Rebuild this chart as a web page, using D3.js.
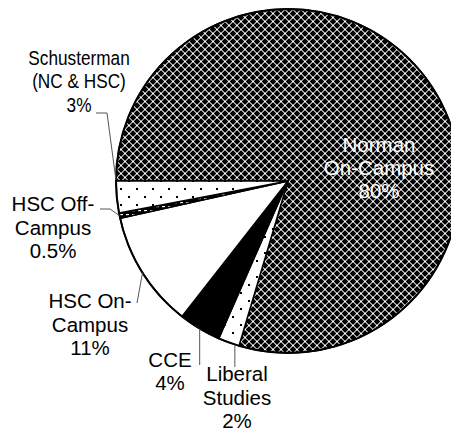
<!DOCTYPE html>
<html>
<head>
<meta charset="utf-8">
<script src="https://d3js.org/d3.v7.min.js"></script>
<style>
  body { margin: 0; background: #fff; }
  text { font-family: "Liberation Sans", Arial, sans-serif; font-size: 20.5px; }
</style>
</head>
<body>
<div id="chart"></div>
<script>
// slices, clockwise from 9 o'clock
const names = ["Norman On-Campus", "Liberal Studies", "CCE", "HSC On-Campus", "HSC Off-Campus", "Schusterman (NC & HSC)"];
const values = [80, 2, 4, 11, 0.5, 3];
const nameLines = [["Norman", "On-Campus"], ["Liberal", "Studies"], ["CCE"], ["HSC On-", "Campus"], ["HSC Off-", "Campus"], ["Schusterman", "(NC & HSC)"]];
const fills = ["url(#crosshatch)", "url(#dots)", "#000", "#fff", "url(#dashes)", "url(#dots)"];

const width = 451;
const height = 431;
const cx = 288, cy = 181, r = 172;

// label placement: center x, first baseline, line step, horizontal squeeze
const labelPos = [
  { x: 379, y: 152, dy: 23, color: "#fff", sx: 1 },
  { x: 237, y: 381, dy: 23.5, color: "#000", sx: 1 },
  { x: 170, y: 367, dy: 23, color: "#000", sx: 1 },
  { x: 90,  y: 308, dy: 23.5, color: "#000", sx: 1 },
  { x: 53,  y: 211, dy: 23.5, color: "#000", sx: 1 },
  { x: 79,  y: 65,  dy: 23.5, color: "#000", sx: 0.84 }
];
// leader lines: label side points, the pie side is computed
const leaders = [
  null,
  { pts: [[null, 367]], at: 0.2 },
  { pts: [[null, 365]], at: 0.5 },
  { pts: [[137, 303]], at: 0.5 },
  { pts: [[100, 209], [110, 209]], at: 0.5 },
  { pts: [[96, 113], [107, 113]], at: 1.02 }
];

const svg = d3.select("#chart").append("svg")
  .attr("width", width)
  .attr("height", height);

const defs = svg.append("defs");

// dark crosshatch tile: doubled diagonal grey lattice on black, white at crossings
const T = 8;
const hatch = defs.append("pattern")
  .attr("id", "crosshatch")
  .attr("patternUnits", "userSpaceOnUse")
  .attr("width", T).attr("height", T);
hatch.append("rect").attr("width", T).attr("height", T).attr("fill", "#000");
const px = [];
for (let y = 0; y < T; y++) {
  for (let x = 0; x < T; x++) {
    const a = (x + y) % T, b = (x - y + T) % T;
    const onA = a === 0 || a === 1, onB = b === 0 || b === 1;
    if (onA && onB) px.push({ x, y, c: "#fff" });
    else if (onA || onB) px.push({ x, y, c: "#9a9a9a" });
  }
}
hatch.selectAll("rect.px").data(px).enter().append("rect")
  .attr("class", "px")
  .attr("x", d => d.x).attr("y", d => d.y)
  .attr("width", 1).attr("height", 1)
  .attr("fill", d => d.c);

// sparse dots
const dots = defs.append("pattern")
  .attr("id", "dots")
  .attr("patternUnits", "userSpaceOnUse")
  .attr("x", 136).attr("y", 183)
  .attr("width", 16).attr("height", 16);
dots.append("rect").attr("width", 16).attr("height", 16).attr("fill", "#fff");
dots.append("rect").attr("x", 0).attr("y", 0).attr("width", 2).attr("height", 2).attr("fill", "#000");
dots.append("rect").attr("x", 8).attr("y", 8).attr("width", 2).attr("height", 2).attr("fill", "#000");

// black with white dashes
const dashes = defs.append("pattern")
  .attr("id", "dashes")
  .attr("patternUnits", "userSpaceOnUse")
  .attr("width", 6).attr("height", 4);
dashes.append("rect").attr("width", 6).attr("height", 4).attr("fill", "#000");
dashes.append("rect").attr("x", 0).attr("y", 1).attr("width", 3).attr("height", 1.2).attr("fill", "#fff");

const pie = d3.pie()
  .sort(null)
  .startAngle(-Math.PI / 2)
  .endAngle(3 * Math.PI / 2);

const arcs = pie(values);
const arc = d3.arc().innerRadius(0).outerRadius(r);

const g = svg.append("g").attr("transform", `translate(${cx},${cy})`);

g.selectAll("path")
  .data(arcs)
  .enter().append("path")
    .attr("d", arc)
    .attr("fill", (d, i) => fills[i])
    .attr("stroke", "#000")
    .attr("stroke-width", 1.5)
    .attr("stroke-linejoin", "miter");

g.append("circle")
  .attr("r", r)
  .attr("fill", "none")
  .attr("stroke", "#000")
  .attr("stroke-width", 2);

// point on the rim at a fraction of the slice
function rim(d, f) {
  const a = d.startAngle + f * (d.endAngle - d.startAngle);
  return [cx + r * Math.sin(a), cy - r * Math.cos(a)];
}

// leader lines
leaders.forEach((l, i) => {
  if (!l) return;
  const p = rim(arcs[i], l.at);
  const pts = l.pts.map(q => [q[0] === null ? p[0] : q[0], q[1]]);
  pts.push(p);
  svg.append("path")
    .attr("d", d3.line()(pts))
    .attr("fill", "none")
    .attr("stroke", "#555")
    .attr("stroke-width", 1);
});

// labels
const labels = svg.selectAll("text.lbl")
  .data(arcs)
  .enter().append("text")
    .attr("class", "lbl")
    .attr("text-anchor", "middle")
    .attr("transform", (d, i) => `translate(${labelPos[i].x},0) scale(${labelPos[i].sx},1)`)
    .attr("fill", (d, i) => labelPos[i].color);

labels.each(function(d, i) {
  const lines = nameLines[i].concat([values[i] + "%"]);
  const pos = labelPos[i];
  d3.select(this).selectAll("tspan")
    .data(lines)
    .enter().append("tspan")
      .attr("x", 0)
      .attr("y", (s, k) => pos.y + k * pos.dy)
      .text(s => s);
});
</script>
</body>
</html>
